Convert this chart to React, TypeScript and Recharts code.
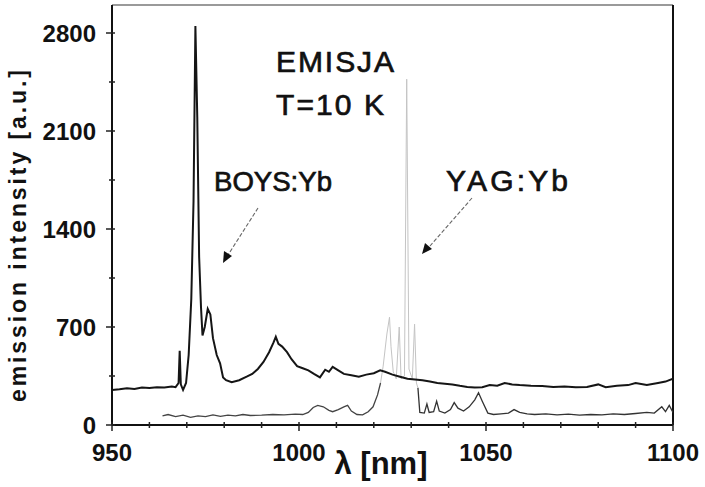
import { LineChart, Line, XAxis, YAxis, ReferenceLine } from 'recharts';

// BOYS:Yb emission, wavelength (nm) and intensity (a.u.)
const boysNm = [
  950, 952, 954, 956, 958, 960, 962, 964, 966, 967, 967.8, 968.1, 968.4, 969, 969.8, 970.5,
  971.2, 971.8, 972.3, 972.8, 973.3, 973.8, 974.2, 974.8, 975.6, 976.3, 977, 978, 978.9,
  979.7, 980.5, 982, 984, 986, 987.5, 989, 990.5, 992, 993.2, 993.8, 994.5, 995.5, 996.8,
  998, 999.5, 1001, 1002.5, 1004, 1005.6, 1007, 1008, 1009, 1010.5, 1012, 1014, 1016, 1018,
  1020, 1021.7, 1023, 1025, 1027, 1029, 1031, 1033, 1035, 1037, 1039, 1041, 1043, 1045, 1047,
  1049, 1051, 1053, 1055, 1057, 1059, 1062, 1065, 1068, 1071, 1074, 1077, 1080, 1082, 1085,
  1088, 1090, 1093, 1096, 1098, 1100,
];
const boysValues = [
  250, 255, 262, 258, 268, 265, 270, 268, 275, 270, 300, 530, 290, 250, 300, 500,
  900, 1600, 2850, 2200, 1200, 840, 640, 700, 830, 790, 620, 500, 440,
  340, 320, 305, 320, 345, 365, 400, 450, 520, 590, 630, 580, 560, 520,
  470, 420, 405, 390, 365, 340, 395, 380, 415, 390, 365, 355, 345, 360,
  370, 390, 380, 360, 345, 330, 325, 320, 310, 300, 295, 290, 280, 272, 268,
  270, 285, 280, 300, 290, 285, 280, 278, 272, 275, 270, 272, 290, 270, 280,
  285, 300, 285, 300, 310, 330,
];

// YAG:Yb emission, split into the low band, the narrow zero-phonon lines and the tail
const yagLowNm = [
  963.5, 965, 967, 969, 971, 973, 975, 977, 979, 981, 983, 985, 987, 990, 993, 996, 999,
  1001, 1002.5, 1003.8, 1005, 1006.5, 1008, 1009, 1010.5, 1012, 1013, 1014, 1015.5, 1017,
  1018.5, 1019.8, 1021, 1021.8,
];
const yagLowValues = [
  65, 75, 60, 70, 55, 65, 60, 72, 62, 70, 65, 75, 68, 70, 75, 72, 78,
  75, 90, 125, 140, 130, 105, 95, 110, 130, 140, 100, 75, 72,
  95, 130, 215, 300,
];
const yagPeakNm = [
  1021.8, 1022.5, 1023.5, 1024.2, 1024.6, 1025.2, 1026, 1026.8, 1027.3, 1028.2, 1028.8,
  1029.4, 1030.3, 1030.9, 1031.4, 1031.8,
];
const yagPeakValues = [
  300, 420, 650, 770, 560, 380, 330, 700, 330, 350, 2470, 400, 330, 720, 300, 265,
];
const yagTailNm = [
  1031.8, 1032.3, 1033.5, 1034.2, 1034.8, 1036, 1036.8, 1037.5, 1039, 1040.5, 1041.5, 1042.5,
  1044, 1045.5, 1047, 1048, 1049, 1050.5, 1052, 1054, 1056, 1057.5, 1059, 1061, 1063, 1066,
  1069, 1072, 1075, 1078, 1081, 1084, 1087, 1090, 1093, 1095, 1097, 1098, 1099, 1100,
];
const yagTailValues = [
  265, 90, 85, 150, 90, 95, 170, 100, 85, 110, 160, 120,
  100, 130, 180, 230, 170, 85, 75, 80, 85, 110, 90, 80, 75, 80,
  72, 78, 70, 75, 72, 80, 75, 82, 90, 85, 130, 95, 140, 90,
];

const xTicks = [950, 960, 970, 980, 990, 1000, 1010, 1020, 1030, 1040, 1050, 1060, 1070, 1080, 1090, 1100];
const yTicks = [0, 350, 700, 1050, 1400, 1750, 2100, 2450, 2800];

const toPoints = (nm: number[], values: number[]) => nm.map((x, i) => ({ nm: x, v: values[i] }));

const boys = toPoints(boysNm, boysValues);
const yagLow = toPoints(yagLowNm, yagLowValues);
const yagPeak = toPoints(yagPeakNm, yagPeakValues);
const yagTail = toPoints(yagTailNm, yagTailValues);

const FONT = '"Liberation Sans", Arial, sans-serif';

const XTick = (props: any) => {
  const { x, y, payload } = props;
  const major = payload.value % 50 === 0;
  return (
    <g>
      <line x1={x} x2={x} y1={y - 3} y2={major ? y + 6 : y + 3} stroke="#222" strokeWidth={1.5} />
      {major && (
        <text x={x} y={y + 36} textAnchor="middle" fontFamily={FONT} fontWeight="bold" fontSize={24} fill="#111">
          {payload.value}
        </text>
      )}
    </g>
  );
};

const YTick = (props: any) => {
  const { x, y, payload } = props;
  const major = payload.value % 700 === 0;
  return (
    <g>
      <line x1={major ? x - 6 : x - 3} x2={x + 3} y1={y} y2={y} stroke="#222" strokeWidth={1.5} />
      {major && (
        <text x={x - 16} y={y} dy="0.36em" textAnchor="end" fontFamily={FONT} fontWeight="bold" fontSize={24} fill="#111">
          {payload.value}
        </text>
      )}
    </g>
  );
};

export default function App() {
  return (
    <div style={{ position: 'absolute', left: 0, top: 0, width: 705, height: 487, background: '#fff' }}>
      <LineChart width={705} height={487} margin={{ top: 5, right: 32, bottom: 0, left: 0 }}>
        <XAxis
          dataKey="nm"
          type="number"
          domain={[950, 1100]}
          ticks={xTicks}
          interval={0}
          height={62}
          tickSize={0}
          tickMargin={0}
          tick={<XTick />}
          tickLine={false}
          axisLine={{ stroke: '#111', strokeWidth: 2 }}
          allowDataOverflow
        />
        <YAxis
          dataKey="v"
          type="number"
          domain={[0, 3000]}
          ticks={yTicks}
          interval={0}
          width={112}
          tickSize={0}
          tickMargin={0}
          tick={<YTick />}
          tickLine={false}
          axisLine={{ stroke: '#111', strokeWidth: 2 }}
          allowDataOverflow
        />
        <ReferenceLine y={3000} stroke="#9a9a9a" strokeWidth={2} />
        <ReferenceLine x={1100} stroke="#111" strokeWidth={2} />
        <Line data={yagPeak} dataKey="v" stroke="#c4c4c4" strokeWidth={1} dot={false} isAnimationActive={false} />
        <Line data={yagLow} dataKey="v" stroke="#444" strokeWidth={1.3} dot={false} isAnimationActive={false} />
        <Line data={yagTail} dataKey="v" stroke="#333" strokeWidth={1.3} dot={false} isAnimationActive={false} />
        <Line data={boys} dataKey="v" stroke="#151515" strokeWidth={2} dot={false} isAnimationActive={false} />
      </LineChart>
      <svg width={705} height={487} style={{ position: 'absolute', left: 0, top: 0, pointerEvents: 'none' }}>
        <g fontFamily={FONT} fill="#111">
          <text x={18} y={236} dy="0.35em" fontSize={23} fontWeight="bold" textAnchor="middle" textLength={332} lengthAdjust="spacing" transform="rotate(-90 18 236)">
            emission intensity [a.u.]
          </text>
          <text x={381} y={474} fontSize={31} fontWeight="bold" textAnchor="middle">λ [nm]</text>
          <g fontSize={30} stroke="#111" strokeWidth={0.7}>
            <text x={276} y={72} textLength={118} lengthAdjust="spacing">EMISJA</text>
            <text x={276} y={115} textLength={108} lengthAdjust="spacing">T=10 K</text>
            <text x={214} y={191} fontSize={28} textLength={118} lengthAdjust="spacingAndGlyphs">BOYS:Yb</text>
            <text x={446} y={191} textLength={122} lengthAdjust="spacing">YAG:Yb</text>
          </g>
        </g>
        <line x1={258} y1={208} x2={228} y2={255} stroke="#666" strokeWidth={1.1} strokeDasharray="4 2" />
        <polygon points="223,263 224,251 232,256" fill="#111" />
        <line x1={472} y1={198} x2={430} y2={246} stroke="#666" strokeWidth={1.1} strokeDasharray="4 2" />
        <polygon points="422,254 425,243 432,249" fill="#111" />
      </svg>
    </div>
  );
}
